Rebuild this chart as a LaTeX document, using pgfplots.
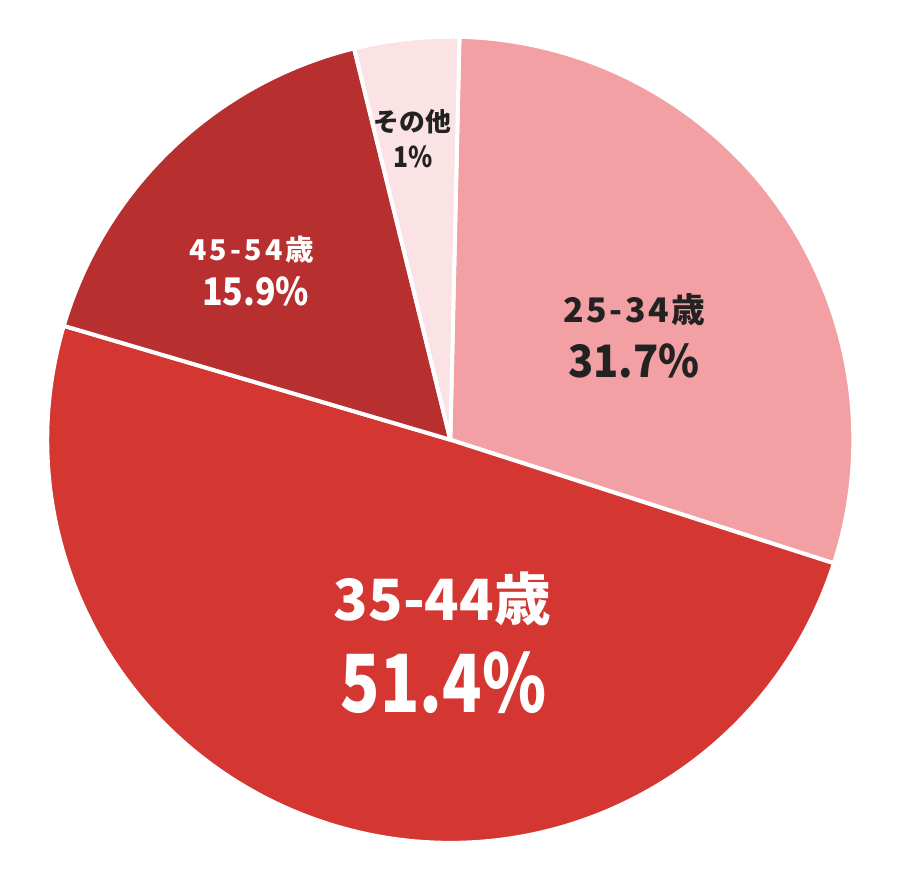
\documentclass[border=0pt]{standalone}
\usepackage{graphicx}
\usepackage{pgfplots}
\pgfplotsset{compat=1.18}
\usepackage{fontspec}
\newfontfamily\cjk{Noto Sans CJK JP}
\definecolor{cA}{HTML}{F2A0A3}
\definecolor{cB}{HTML}{D43631}
\definecolor{cC}{HTML}{B72F2E}
\definecolor{cD}{HTML}{FAE2E5}
\definecolor{tx}{HTML}{222222}
% slice shares as drawn (percent), clockwise from the top
\def\shA{29.6}\def\shB{49.6}\def\shC{16.6}\def\shD{4.2}
\def\R{4.06}
\pgfmathsetmacro\aA{88.7}
\pgfmathsetmacro\aB{\aA-3.6*\shA}
\pgfmathsetmacro\aC{\aB-3.6*\shB}
\pgfmathsetmacro\aD{\aC-3.6*\shC}
\pgfmathsetmacro\aE{\aD-3.6*\shD}
\begin{document}
\begin{tikzpicture}
\begin{axis}[hide axis, x=1cm, y=1cm, disabledatascaling,
  xmin=-4.47, xmax=4.53, ymin=-4.57, ymax=4.43, clip=false,
  scale only axis]
\path (rel axis cs:0,0) rectangle (rel axis cs:1,1);
\filldraw[fill=cA, draw=white, line width=0.04cm, line join=round] (axis cs:0,0) -- (axis cs:{\R*cos(\aA)},{\R*sin(\aA)}) arc[start angle=\aA, end angle=\aB, radius=\R cm] -- cycle;
\filldraw[fill=cB, draw=white, line width=0.04cm, line join=round] (axis cs:0,0) -- (axis cs:{\R*cos(\aB)},{\R*sin(\aB)}) arc[start angle=\aB, end angle=\aC, radius=\R cm] -- cycle;
\filldraw[fill=cC, draw=white, line width=0.04cm, line join=round] (axis cs:0,0) -- (axis cs:{\R*cos(\aC)},{\R*sin(\aC)}) arc[start angle=\aC, end angle=\aD, radius=\R cm] -- cycle;
\filldraw[fill=cD, draw=white, line width=0.04cm, line join=round] (axis cs:0,0) -- (axis cs:{\R*cos(\aD)},{\R*sin(\aD)}) arc[start angle=\aD, end angle=\aE, radius=\R cm] -- cycle;
\node[anchor=base, text=tx, font=\cjk\bfseries\fontsize{9.7}{10}\selectfont\addfontfeatures{LetterSpace=8}] at (axis cs:1.855,1.18) {25-34歳};
\node[anchor=base, text=tx, font=\cjk\bfseries\fontsize{12.8}{13}\selectfont] at (axis cs:1.85,0.63) {\scalebox{0.93}[1]{31.7\%}};
\node[anchor=base, text=white, font=\cjk\bfseries\fontsize{16.3}{17}\selectfont] at (axis cs:-0.08,-1.82) {35-44歳};
\node[anchor=base, text=white, font=\cjk\bfseries\fontsize{23}{24}\selectfont] at (axis cs:-0.07,-2.75) {\scalebox{0.81}[1]{51.4\%}};
\node[anchor=base, text=white, font=\cjk\bfseries\fontsize{8.2}{9}\selectfont\addfontfeatures{LetterSpace=11}] at (axis cs:-2.0,1.81) {45-54歳};
\node[anchor=base, text=white, font=\cjk\bfseries\fontsize{10.9}{11}\selectfont] at (axis cs:-1.96,1.35) {\scalebox{0.89}[1]{15.9\%}};
\node[anchor=base, text=tx, font=\cjk\bfseries\fontsize{7.4}{8}\selectfont] at (axis cs:-0.38,3.11) {その他};
\node[anchor=base, text=tx, font=\cjk\bfseries\fontsize{8.2}{9}\selectfont] at (axis cs:-0.37,2.74) {\scalebox{0.86}[1]{1\%}};
\end{axis}
\end{tikzpicture}
\end{document}
